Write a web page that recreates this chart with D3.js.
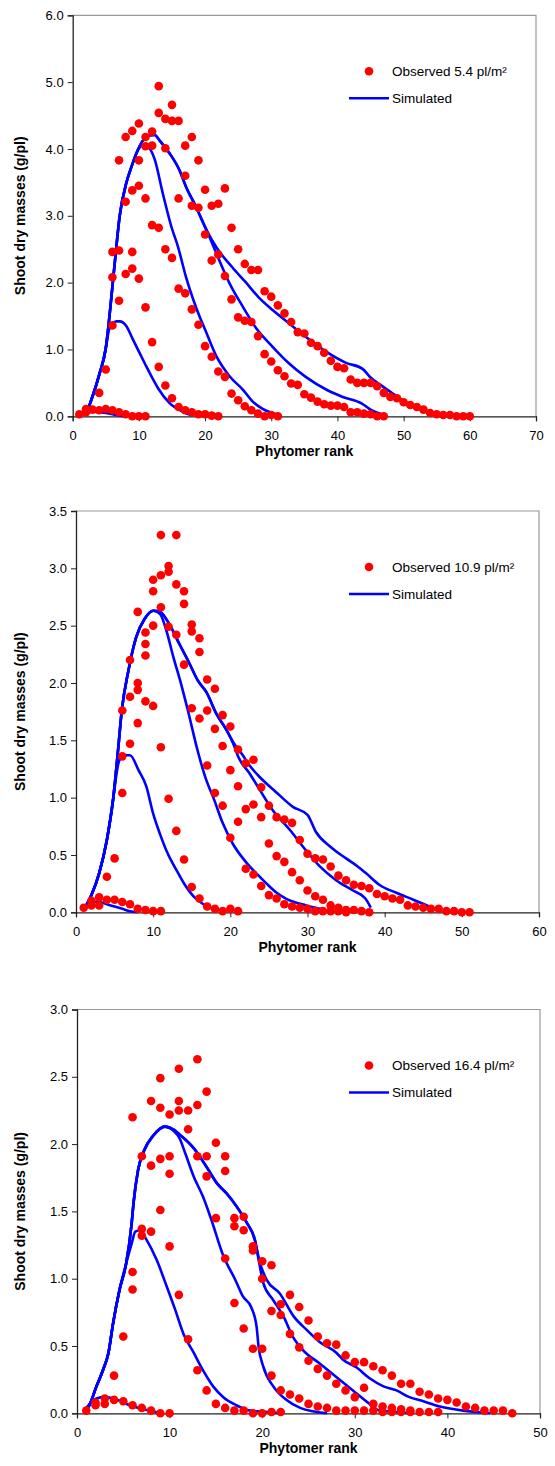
<!DOCTYPE html>
<html><head><meta charset="utf-8">
<script src="https://cdn.jsdelivr.net/npm/d3@7/dist/d3.min.js"></script>
<style>body{margin:0;background:#fff}text{font-family:"Liberation Sans",Arial,sans-serif}</style>
</head><body><svg id="c" width="555" height="1466"></svg>
<script>
// ---------- Panel 1 : 5.4 pl/m2 ----------
const obs54Start = [1, 2, 6, 6, 9];
const obs54_1 = [0.03,0.11,0.1,0.09,0.11,0.09,0.06,0.03,0,0,0];
const obs54_2 = [0.06,null,0.35,0.7,1.36,1.73,2.13,2.21,2.06,1.63,1.11,0.74,0.46,0.27,0.14,0.09,0.06,0.03,0.03,0.01,0];
const obs54_3 = [2.08,2.48,3.21,2.46,3.45,3.26,2.86,2.82,2.5,2.37,1.91,1.84,1.6,1.37,1.05,0.89,0.67,0.59,0.34,0.24,0.15,0.09,0.04,0,0.02,0];
const obs54_4 = [2.46,3.83,4.18,3.38,3.83,4.04,4.05,4.54,4.01,4.42,3.26,3.6,3.15,3.12,2.72,2.33,2.42,2.1,1.75,1.48,1.43,1.41,1.2,0.93,0.82,0.69,0.6,0.49,0.47,0.33,0.28,0.22,0.18,0.16,0.16,0.14,0.06,0.06,0.04,0.03,0,0];
const obs54_5 = [4.27,4.38,4.18,4.26,4.94,4.45,4.66,4.42,4.05,4.18,3.83,3.39,3.15,3.18,3.41,2.82,2.5,2.28,2.19,2.19,1.87,1.79,1.66,1.54,1.41,1.26,1.24,1.1,1.05,0.95,0.83,0.74,0.72,0.55,0.5,0.5,0.5,0.45,0.35,0.29,0.27,0.21,0.17,0.14,0.1,0.05,0.03,0.02,0.02,0,0,0];
const sim54_1 = [[1,0.02],[2,0.06],[3,0.07],[4,0.06],[5,0.05],[6,0.03],[7,0.01],[8,0]];
const sim54_2 = [[1,0.02],[2,0.06],[3,0.3],[4,0.62],[5,1.02],[5.5,1.3],[6,1.38],[6.6,1.42],[7.1,1.42],[8.1,1.35],[9,1.17],[10.1,0.95],[11.1,0.75],[12,0.58],[12.9,0.42],[14.6,0.2],[16.6,0.07],[18.1,0.01]];
const sim54_3 = [[1,0.02],[2,0.06],[3,0.3],[4,0.62],[5,1.02],[5.4,1.35],[5.9,1.84],[6.4,2.34],[7.1,3.0],[8.1,3.49],[8.9,3.74],[9.9,3.99],[10.6,4.06],[11.6,4.01],[12.4,3.84],[13.6,3.34],[14.9,2.84],[15.9,2.54],[17.1,2.09],[18.6,1.64],[20.2,1.25],[21.7,0.9],[23.7,0.6],[25.7,0.4],[27.2,0.22],[28.7,0.11],[31.2,0.02]];
const sim54_4 = [[1,0.02],[2,0.06],[3,0.3],[4,0.62],[5,1.02],[5.4,1.35],[5.9,1.84],[6.4,2.34],[7.1,3.0],[8.1,3.49],[8.9,3.74],[10.1,4.04],[11.4,4.2],[12.4,4.21],[13.1,4.13],[14.6,3.94],[16.1,3.69],[17.1,3.44],[18.6,3.14],[20.2,2.79],[21.7,2.44],[23.7,1.99],[25.7,1.64],[27.7,1.32],[30.2,1.04],[32.7,0.79],[35.2,0.59],[38.5,0.39],[40.8,0.29],[43.7,0.19],[45,0.1],[46.7,0.03]];
const sim54_5 = [[1,0.02],[2,0.06],[3,0.3],[4,0.62],[5,1.02],[5.4,1.35],[5.9,1.84],[6.4,2.34],[7.1,3.0],[8.1,3.49],[8.9,3.74],[10.1,4.04],[11.4,4.2],[12.4,4.21],[13.1,4.13],[14.6,3.94],[16.1,3.69],[17.1,3.44],[18.6,3.14],[20.2,2.79],[21.7,2.53],[24.1,2.23],[26.1,2.01],[28.1,1.78],[30.2,1.59],[32.7,1.39],[35.2,1.19],[38.4,0.96],[41.3,0.8],[43.8,0.71],[45,0.58],[46.5,0.47],[48.8,0.31],[50.3,0.21],[51.8,0.14],[53.3,0.07],[54.8,0.03]];

// ---------- Panel 2 : 10.9 pl/m2 ----------
const obs109Start = [1, 2, 6, 6, 8];
const obs109_1 = [0.04,0.1,0.13,0.11,0.11,0.09,0.07,0.03,0.02,0.01,0.01];
const obs109_2 = [0.06,0.06,0.31,0.47,1.04,1.47,1.65,1.84,1.8,1.44,0.99,0.71,0.46,0.22,0.12,0.05,0.03,0.01,0.03,0.01];
const obs109_3 = [1.36,1.88,1.94,2.24,2.5,2.66,2.49,2.42,2.16,1.78,1.69,1.28,1.04,0.93,0.65,0.79,0.38,0.33,0.23,0.15,0.12,0.07,0.05,0.04,0.03,0.01,0.01,0.01,0.01,0];
const obs109_4 = [1.76,2.2,2.0,2.34,2.8,2.94,2.97,2.86,2.69,2.45,2.27,1.76,1.6,1.45,1.24,1.1,0.9,0.94,0.83,0.6,0.49,0.44,0.35,0.28,0.19,0.14,0.11,0.06,0.04,0.02,0.02,0.01,0];
const obs109_5 = [2.62,2.44,2.9,3.29,3.02,3.29,2.8,2.51,2.39,2.03,1.95,1.72,1.62,1.42,1.3,1.33,1.09,0.93,0.83,0.81,0.78,0.63,0.51,0.47,0.46,0.4,0.32,0.28,0.24,0.23,0.21,0.16,0.14,0.12,0.11,0.06,0.05,0.04,0.03,0.03,0.01,0.01,0,0];
const sim109_1 = [[1,0.04],[2,0.09],[3,0.09],[4,0.07],[5,0.05],[6,0.03],[7,0.01],[8,0]];
const sim109_2 = [[1,0.02],[2,0.15],[3,0.34],[4,0.63],[4.8,0.98],[5.5,1.3],[6.1,1.37],[7,1.37],[8.1,1.24],[9.1,1.1],[10,0.86],[10.9,0.68],[11.9,0.51],[13,0.37],[14.1,0.24],[15.2,0.14],[16.5,0.07],[17.8,0.03],[19.5,0.01]];
const sim109_3 = [[1,0.02],[2,0.15],[3,0.34],[4,0.63],[4.8,0.98],[5.5,1.45],[5.9,1.74],[6.8,2.11],[7.8,2.4],[8.9,2.56],[10,2.63],[10.9,2.6],[11.7,2.46],[12.6,2.23],[13.5,2.02],[14.5,1.76],[15.8,1.4],[16.9,1.15],[17.8,1.0],[19,0.78],[20.3,0.6],[22,0.44],[23.5,0.33],[24.7,0.25],[26,0.17],[27.2,0.12],[29.8,0.06],[32.4,0.02]];
const sim109_4 = [[1,0.02],[2,0.15],[3,0.34],[4,0.63],[4.8,0.98],[5.5,1.45],[5.9,1.74],[6.8,2.11],[7.8,2.4],[8.9,2.56],[10,2.63],[10.9,2.62],[12.2,2.5],[13.4,2.34],[14.7,2.17],[15.8,2.02],[16.9,1.92],[18.2,1.73],[19.5,1.59],[20.5,1.45],[21,1.36],[22.5,1.21],[23.8,1.07],[25.5,0.89],[27.7,0.72],[29.8,0.54],[31.6,0.4],[33.7,0.28],[35.9,0.19],[37.5,0.12],[38.2,0.04]];
const sim109_5 = [[1,0.02],[2,0.15],[3,0.34],[4,0.63],[4.8,0.98],[5.5,1.45],[5.9,1.74],[6.8,2.11],[7.8,2.4],[8.9,2.56],[10,2.63],[10.9,2.62],[12.2,2.5],[13.4,2.34],[14.7,2.17],[15.8,2.02],[16.9,1.92],[18.2,1.73],[19.5,1.59],[20.5,1.47],[21.5,1.38],[22.5,1.28],[23.8,1.18],[25.9,1.05],[28.1,0.92],[30,0.85],[31.1,0.7],[33,0.57],[35,0.47],[36.5,0.4],[37.6,0.34],[39.3,0.24],[41.5,0.17],[43.7,0.11],[45.8,0.05],[47.1,0.01]];

// ---------- Panel 3 : 16.4 pl/m2 ----------
const obs164Start = [1, 2, 6, 6, 9];
const obs164_1 = [0.02,0.08,0.11,0.1,0.09,0.06,0.04,0.02,0,0];
const obs164_2 = [0.06,0.07,0.28,0.57,0.92,1.32,1.35,1.51,1.24,0.88,0.55,0.32,0.17,0.07,0.04,0.02,0.02,0,0,0.01,0.01];
const obs164_3 = [1.05,1.37,1.84,1.89,1.78,2.25,2.11,1.91,1.76,1.45,1.15,0.82,0.63,0.48,0.48,0.28,0.17,0.14,0.11,0.07,0.05,0.04,0.02,0.02,0.02,0.02,0.02,0.01,0.01,0.01,0.01,0.01,0.01,0.01];
const obs164_4 = [2.2,1.91,2.32,2.27,1.91,2.32,2.25,2.29,1.91,2.01,1.8,1.39,1.36,1.21,1.0,0.76,0.73,0.59,0.49,0.39,0.33,0.28,0.22,0.17,0.12,0.19,0.07,0.05,0.04,0.03,0.02];
const obs164_5 = [2.49,2.22,2.56,null,2.63,2.39,null,1.91,1.45,1.46,1.24,1.13,1.1,0.81,0.88,0.79,0.69,0.57,0.52,0.51,0.43,0.38,0.38,0.35,0.32,0.28,0.22,0.22,0.16,0.14,0.11,0.1,0.08,0.05,0.04,0.02,0.02,0.02,0];
const sim164_1 = [[1,0.04],[2.1,0.11],[3,0.12],[4.3,0.1],[5.7,0.06],[7.2,0.03],[9,0]];
const sim164_2 = [[1,0.02],[1.4,0.07],[2.1,0.2],[2.8,0.32],[3.4,0.45],[3.9,0.67],[4.6,0.92],[5.3,1.11],[5.9,1.26],[6.3,1.35],[6.8,1.36],[7.5,1.29],[8.6,1.14],[9.7,0.94],[10.6,0.77],[11.5,0.59],[12.6,0.45],[13.6,0.32],[14.7,0.2],[15.8,0.12],[17.2,0.06],[18.7,0.02],[20.5,0.01],[22,0]];
const sim164_3 = [[1,0.02],[1.4,0.07],[2.1,0.2],[2.8,0.32],[3.4,0.45],[3.9,0.67],[4.6,0.92],[5.3,1.11],[5.9,1.41],[6.1,1.56],[6.6,1.81],[7.3,1.96],[8.2,2.06],[9.5,2.13],[10.4,2.1],[11.1,2.04],[11.7,1.93],[12.6,1.76],[13.6,1.61],[14.5,1.44],[15.8,1.17],[17.1,0.99],[17.9,0.87],[18.8,0.79],[19.4,0.64],[19.6,0.5],[20.1,0.35],[21.2,0.2],[22.6,0.1],[24.1,0.04],[27,0]];
const sim164_4 = [[1,0.02],[1.4,0.07],[2.1,0.2],[2.8,0.32],[3.4,0.45],[3.9,0.67],[4.6,0.92],[5.3,1.11],[5.9,1.41],[6.1,1.56],[6.6,1.81],[7.3,1.96],[8.2,2.06],[9.5,2.13],[10.4,2.11],[11.1,2.07],[12.6,1.97],[14,1.83],[15.1,1.71],[16.2,1.63],[17.2,1.54],[18.3,1.42],[19.2,1.29],[19.7,1.11],[20.1,0.97],[21.2,0.84],[22.3,0.72],[23.3,0.57],[24.4,0.47],[26.2,0.37],[28,0.27],[29.8,0.17],[31.6,0.07],[32.7,0.02],[34.5,0.01],[36,0]];
const sim164_5 = [[1,0.02],[1.4,0.07],[2.1,0.2],[2.8,0.32],[3.4,0.45],[3.9,0.67],[4.6,0.92],[5.3,1.11],[5.9,1.41],[6.1,1.56],[6.6,1.81],[7.3,1.96],[8.2,2.06],[9.5,2.13],[10.4,2.11],[11.1,2.07],[12.6,1.97],[14,1.83],[15.1,1.71],[16.2,1.63],[17.2,1.54],[18.3,1.42],[19.2,1.29],[19.7,1.13],[20.5,0.99],[21.9,0.89],[23.4,0.72],[24.8,0.62],[26.2,0.53],[28,0.45],[28.7,0.4],[30.2,0.34],[31.6,0.26],[33.1,0.2],[34.5,0.17],[35.9,0.12],[37.4,0.09],[39.2,0.05],[41.7,0.02],[43.1,0.01],[44.6,0]];

const xTicks54 = [0,10,20,30,40,50,60,70];
const xTicks109 = [0,10,20,30,40,50,60];
const xTicks164 = [0,10,20,30,40,50];
const yTicks54 = [0,1,2,3,4,5,6];
const yTicks109 = [0,0.5,1,1.5,2,2.5,3,3.5];
const yTicks164 = [0,0.5,1,1.5,2,2.5,3];
const legendObs = ["Observed 5.4 pl/m²","Observed 10.9 pl/m²","Observed 16.4 pl/m²"];
const legendSim = "Simulated";
const xTitle = "Phytomer rank";
const yTitle = "Shoot dry masses (g/pl)";

const panels = [
  {obs:[obs54_1,obs54_2,obs54_3,obs54_4,obs54_5], starts:obs54Start, sims:[sim54_1,sim54_2,sim54_3,sim54_4,sim54_5], xt:xTicks54, yt:yTicks54, leg:legendObs[0], box:[72.7,536,15.3,416.3]},
  {obs:[obs109_1,obs109_2,obs109_3,obs109_4,obs109_5], starts:obs109Start, sims:[sim109_1,sim109_2,sim109_3,sim109_4,sim109_5], xt:xTicks109, yt:yTicks109, leg:legendObs[1], box:[76,539,511,912.3]},
  {obs:[obs164_1,obs164_2,obs164_3,obs164_4,obs164_5], starts:obs164Start, sims:[sim164_1,sim164_2,sim164_3,sim164_4,sim164_5], xt:xTicks164, yt:yTicks164, leg:legendObs[2], box:[77,540,1009.5,1413.3]}
];

const svg = d3.select("#c");
panels.forEach(p => {
  const [x0,x1,y0,y1] = p.box;
  const x = d3.scaleLinear().domain([0, d3.max(p.xt)]).range([x0,x1]);
  const y = d3.scaleLinear().domain([0, d3.max(p.yt)]).range([y1,y0]);
  const g = svg.append("g");
  g.append("path").attr("d",`M${x0},${y0}H${x1}V${y1}`).attr("fill","none").attr("stroke","#999").attr("stroke-width",1.2);
  const ya = g.append("g").attr("transform",`translate(${x0},0)`)
    .call(d3.axisLeft(y).tickValues(p.yt).tickFormat(d3.format(".1f")).tickSize(5).tickPadding(4));
  const xa = g.append("g").attr("transform",`translate(0,${y1})`)
    .call(d3.axisBottom(x).tickValues(p.xt).tickFormat(d3.format("d")).tickSize(5).tickPadding(9));
  [ya,xa].forEach(a=>{
    a.select(".domain").attr("stroke","#222").attr("stroke-width",1.3);
    a.selectAll(".tick line").attr("stroke","#222");
    a.selectAll("text").attr("font-size",13).attr("fill","#000").attr("font-family","'Liberation Sans',Arial,sans-serif");
  });
  g.append("text").attr("x",(x0+x1)/2).attr("y",y1+40).attr("text-anchor","middle")
    .attr("font-size",14).attr("font-weight","bold").text(xTitle);
  g.append("text").attr("transform",`translate(25,${(y0+y1)/2}) rotate(-90)`).attr("text-anchor","middle")
    .attr("font-size",14).attr("font-weight","bold").text(yTitle);
  const line = d3.line().x(d=>x(d[0])).y(d=>y(d[1])).curve(d3.curveMonotoneX);
  p.sims.forEach(s => g.append("path").datum(s).attr("d",line).attr("fill","none")
    .attr("stroke","#0000ff").attr("stroke-width",2.6).attr("stroke-linejoin","round"));
  p.obs.forEach((arr,i) => {
    const pts = arr.map((v,k)=>[p.starts[i]+k, v]).filter(d=>d[1]!==null);
    g.selectAll(null).data(pts).enter().append("circle")
      .attr("cx",d=>x(d[0])).attr("cy",d=>y(d[1])).attr("r",4.3).attr("fill","#ff0000");
  });
  const ly = y0 + 56;
  g.append("circle").attr("cx",369).attr("cy",ly).attr("r",4.3).attr("fill","#ff0000");
  g.append("text").attr("x",392).attr("y",ly+4.5).attr("font-size",13.5).text(p.leg);
  g.append("line").attr("x1",349).attr("x2",389).attr("y1",ly+27).attr("y2",ly+27).attr("stroke","#0000ff").attr("stroke-width",2.6);
  g.append("text").attr("x",392).attr("y",ly+31.5).attr("font-size",13.5).text(legendSim);
});
</script></body></html>
